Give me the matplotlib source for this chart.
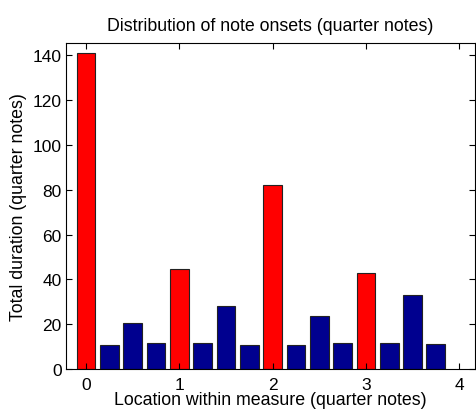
import matplotlib
matplotlib.use("Agg")
import matplotlib.pyplot as plt

# onset positions within a measure, in quarter notes
positions = [0, 0.25, 0.5, 0.75, 1, 1.25, 1.5, 1.75, 2, 2.25, 2.5, 2.75, 3, 3.25, 3.5, 3.75]
durations = [141, 10.5, 20.5, 11.7, 44.5, 11.7, 28.3, 10.8, 82, 10.5, 23.6, 11.7, 43, 11.7, 33.2, 11.3]
beat_color = "#ff0000"
offbeat_color = "#00008f"

plt.rcParams["font.family"] = ["Liberation Sans", "DejaVu Sans"]

fig = plt.figure(figsize=(4.76, 4.14), dpi=100)
ax = fig.add_axes([66 / 476, 1 - 370 / 414, 409 / 476, 326 / 414])

colors = [beat_color if p == int(p) else offbeat_color for p in positions]
ax.bar(positions, durations, width=0.2, color=colors, edgecolor="#222222", linewidth=0.8)

ax.set_xlim(-0.215, 4.17)
ax.set_ylim(0, 145.5)
ax.set_xticks([0, 1, 2, 3, 4])
ax.set_yticks(range(0, 141, 20))
ax.tick_params(direction="in", top=True, right=True, length=4, labelsize=12.5)
ax.tick_params(axis="x", pad=6)
ax.tick_params(axis="y", pad=3)
for s in ax.spines.values():
    s.set_linewidth(0.8)

ax.set_title("Distribution of note onsets (quarter notes)", fontsize=12.8, pad=9)
ax.set_xlabel("Location within measure (quarter notes)", fontsize=12.8, labelpad=-1)
ax.set_ylabel("Total duration (quarter notes)", fontsize=12.8, labelpad=4)

fig.savefig("out.png", dpi=100)
